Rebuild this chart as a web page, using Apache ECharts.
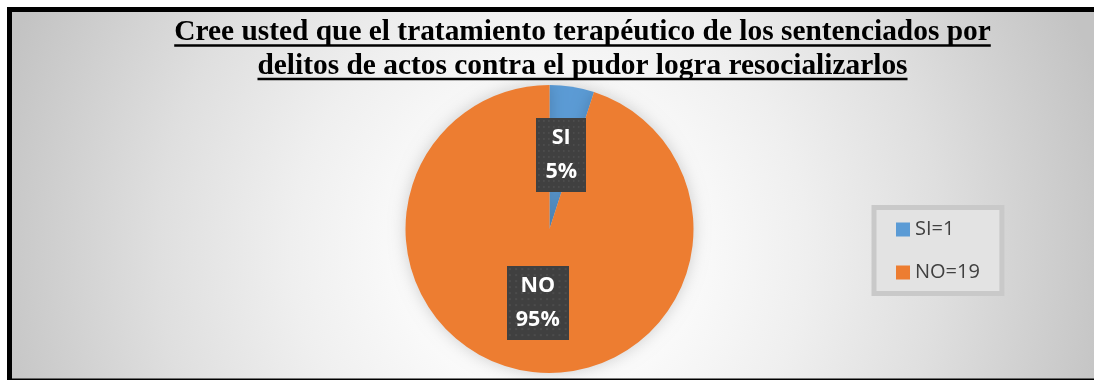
<!DOCTYPE html>
<html>
<head>
<meta charset="utf-8">
<script src="https://cdn.jsdelivr.net/npm/echarts@6/dist/echarts.min.js"></script>
<style>
  html, body { margin: 0; padding: 0; background: #ffffff; overflow: hidden; }
  #chart { width: 1094px; height: 380px; }
</style>
</head>
<body>
<div id="chart"></div>
<script>
// Survey answers
const categories = ['SI', 'NO'];
const counts = [1, 19];
const sliceColors = ['#5B9BD5', '#ED7D31'];
const titleLines = [
  'Cree usted que el tratamiento terapéutico de los sentenciados por',
  'delitos de actos contra el pudor logra resocializarlos'
];

const TITLE_FONT = 'bold 29.4px "Liberation Serif"';
const titleCenterX = 582.5;
const titleMidY = [32.5, 66];
const underlineY = [45.5, 79];

// Width of a title line, used for the underline under it
function textWidth(str, font) {
  const c = document.createElement('canvas').getContext('2d');
  c.font = font;
  return c.measureText(str).width;
}

// Dark dotted texture for the data label boxes
function dottedTexture(w, h) {
  const cv = document.createElement('canvas');
  cv.width = w; cv.height = h;
  const g = cv.getContext('2d');
  g.fillStyle = '#404040';
  g.fillRect(0, 0, w, h);
  g.fillStyle = '#565656';
  for (let y = 3; y < h; y += 6) {
    for (let x = 3; x < w; x += 6) {
      g.fillRect(x - 0.75, y - 0.75, 1.5, 1.5);
    }
  }
  return cv;
}
const labelTexture = dottedTexture(60, 74);

const titleGraphics = [];
titleLines.forEach((line, i) => {
  const w = textWidth(line, TITLE_FONT);
  titleGraphics.push({
    type: 'text',
    z: 10,
    style: {
      text: line,
      x: titleCenterX,
      y: titleMidY[i],
      align: 'center',
      verticalAlign: 'middle',
      font: TITLE_FONT,
      fill: '#000000'
    }
  });
  titleGraphics.push({
    type: 'rect',
    z: 10,
    shape: { x: titleCenterX - w / 2, y: underlineY[i] - 1.25, width: w, height: 2.5 },
    style: { fill: '#000000' }
  });
});

const chart = echarts.init(document.getElementById('chart'), null, { renderer: 'canvas' });

const frame = '#000000';

chart.setOption({
  animation: false,
  graphic: [
    // panel fill: light centre fading to grey towards the edges
    {
      type: 'rect',
      z: -10,
      silent: true,
      shape: { x: 7, y: 7, width: 1087, height: 380 },
      style: {
        fill: {
          type: 'radial', x: 549, y: 250, r: 575, global: true,
          colorStops: [
            { offset: 0, color: '#ffffff' },
            { offset: 0.25, color: '#fafafa' },
            { offset: 0.45, color: '#efefef' },
            { offset: 0.68, color: '#dfdfdf' },
            { offset: 1, color: '#c3c3c3' }
          ]
        }
      }
    },
    // panel frame: top, left and bottom bars
    { type: 'rect', z: -9, silent: true, shape: { x: 7, y: 7, width: 1087, height: 5 }, style: { fill: frame } },
    { type: 'rect', z: -9, silent: true, shape: { x: 7, y: 7, width: 5, height: 380 }, style: { fill: frame } },
    { type: 'rect', z: -9, silent: true, shape: { x: 7, y: 378.5, width: 1087, height: 5 }, style: { fill: frame } }
  ].concat(titleGraphics),
  legend: {
    orient: 'vertical',
    left: 874,
    top: 207.5,
    padding: [12, 22, 11, 22],
    borderWidth: 5,
    borderColor: '#c9c9c9',
    backgroundColor: '#e3e3e3',
    itemWidth: 14,
    itemHeight: 14,
    itemGap: 23,
    icon: 'rect',
    formatter: name => name + '=' + counts[categories.indexOf(name)],
    textStyle: {
      fontFamily: '"Open Sans"',
      fontSize: 20,
      lineHeight: 20,
      color: '#404040'
    }
  },
  series: [
    {
      type: 'pie',
      center: [549.5, 229],
      radius: 144,
      startAngle: 90,
      clockwise: true,
      silent: true,
      itemStyle: {
        shadowBlur: 16,
        shadowColor: 'rgba(0,0,0,0.18)'
      },
      label: {
        show: true,
        position: 'inside',
        formatter: p => p.name + '\n' + Math.round(p.percent) + '%',
        fontFamily: '"Open Sans"',
        fontWeight: 'bold',
        fontSize: 21.5,
        lineHeight: 34,
        color: '#ffffff',
        align: 'center',
        padding: [3, 9, 3, 9],
        backgroundColor: { image: labelTexture },
        shadowColor: 'rgba(0,0,0,0.55)',
        shadowBlur: 6,
        shadowOffsetX: 4,
        shadowOffsetY: 5
      },
      labelLine: { show: false },
      data: categories.map((c, i) => ({
        name: c,
        value: counts[i],
        itemStyle: { color: sliceColors[i] }
      }))
    }
  ]
});
</script>
</body>
</html>
